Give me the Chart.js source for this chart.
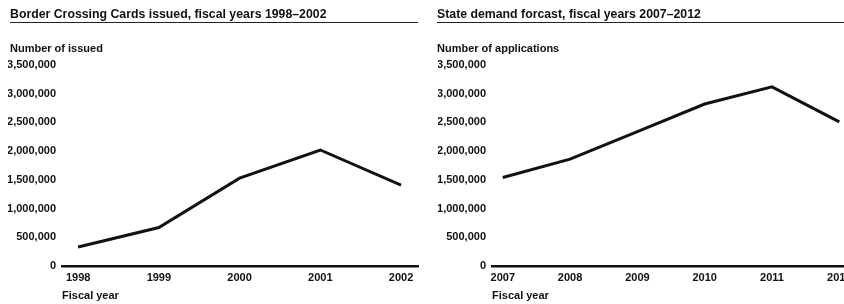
<!DOCTYPE html>
<html>
<head>
<meta charset="utf-8">
<script src="https://cdn.jsdelivr.net/npm/chart.js@4"></script>
<style>
  body { margin: 0; width: 844px; height: 304px; background: #fff; position: relative; overflow: hidden;
         font-family: "Liberation Sans", Arial, sans-serif; color: #111; }
  .box { position: absolute; top: 0; width: 422px; height: 304px; }
  .titulo { position: absolute; top: 6px; font-weight: bold; font-size: 12.3px; line-height: 16px;
            border-bottom: 1.5px solid #222; }
  .unidad { position: absolute; top: 42px; font-weight: bold; font-size: 11px; line-height: 13px; }
</style>
</head>
<body>
<div class="box" style="left:0"><canvas id="grafico1"></canvas></div>
<div class="box" style="left:422px"><canvas id="grafico2"></canvas></div>
<div class="titulo" style="left:10px; width:408px">Border Crossing Cards issued, fiscal years 1998–2002</div>
<div class="titulo" style="left:437px; width:407px">State demand forcast, fiscal years 2007–2012</div>
<div class="unidad" style="left:10px">Number of issued</div>
<div class="unidad" style="left:437px">Number of applications</div>
<script>
// Datos
const anios1 = [1998, 1999, 2000, 2001, 2002];
const tarjetas = [330000, 670000, 1530000, 2020000, 1410000];

const anios2 = [2007, 2008, 2009, 2010, 2011, 2012];
const solicitudes = [1540000, 1860000, 2340000, 2820000, 3120000, 2510000];

const ticksY = [0, 500000, 1000000, 1500000, 2000000, 2500000, 3000000, 3500000];

const fuente = { family: "'Liberation Sans', Arial, sans-serif", size: 11, weight: "bold" };

function crearGrafico(id, anios, valores, xMin, xMax, padIzq, padDer) {
    const ctx = document.getElementById(id).getContext("2d");
    return new Chart(ctx, {
        type: "line",
        data: {
            datasets: [{
                data: anios.map((a, i) => ({ x: a, y: valores[i] })),
                borderColor: "#111",
                borderWidth: 3,
                pointRadius: 0,
                tension: 0,
                fill: false
            }]
        },
        options: {
            responsive: false,
            animation: false,
            layout: { padding: { left: padIzq, right: padDer, top: 65, bottom: 0 } },
            plugins: { legend: { display: false }, tooltip: { enabled: false } },
            scales: {
                x: {
                    type: "linear",
                    min: xMin,
                    max: xMax,
                    grid: { display: false, drawTicks: false },
                    border: { display: true, color: "#111", width: 2.5 },
                    ticks: { color: "#111", font: fuente, padding: 5, maxRotation: 0,
                             callback: v => String(v) },
                    afterBuildTicks: s => { s.ticks = anios.map(v => ({ value: v })); },
                    afterFit: s => { s.height = 38; s.paddingLeft = 0; s.paddingRight = 0; },
                    title: { display: true, text: "Fiscal year", align: "start", color: "#111",
                             font: fuente, padding: { top: 2, bottom: 1 } }
                },
                y: {
                    min: 0,
                    max: 3500000,
                    grid: { display: false, drawTicks: false },
                    border: { display: false },
                    ticks: { color: "#111", font: fuente, padding: 6,
                             callback: v => v.toLocaleString("en-US") },
                    afterBuildTicks: s => { s.ticks = ticksY.map(v => ({ value: v })); },
                    afterFit: s => { s.width = 54; }
                }
            }
        }
    });
}

document.getElementById("grafico1").width = 422;
document.getElementById("grafico1").height = 304;
document.getElementById("grafico2").width = 422;
document.getElementById("grafico2").height = 304;

crearGrafico("grafico1", anios1, tarjetas, 1997.8, 2002.21, 8, 4);
crearGrafico("grafico2", anios2, solicitudes, 2006.84, 2012.07, 16, 0);
</script>
</body>
</html>
